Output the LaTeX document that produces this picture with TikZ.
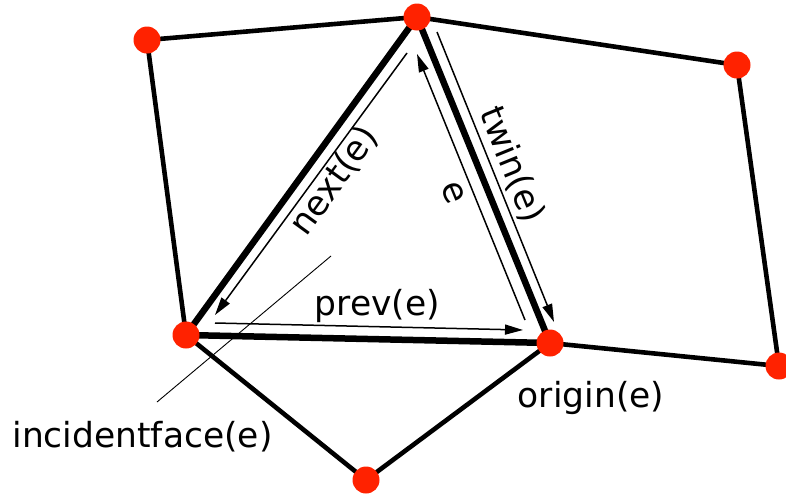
\documentclass[tikz,border=0pt]{standalone}
\usepackage{fontspec}
\setmainfont{DejaVu Sans}
\usetikzlibrary{arrows.meta}
\definecolor{vred}{RGB}{255,34,0}
\begin{document}
\begin{tikzpicture}[x=1pt,y=-1pt,
  outer/.style={line width=4.6pt,line join=round},
  tri/.style={line width=6.5pt,line join=round},
  vertex/.style={circle,fill=vred,inner sep=0pt,minimum size=27pt},
  harrow/.style={line width=1.5pt,-{Triangle[length=18pt,width=10pt]}},
  lbl/.style={inner sep=0pt,font=\fontsize{34.5}{41}\selectfont}]
\useasboundingbox (0,0) rectangle (786,493);
% vertices
\coordinate (A) at (147,40);
\coordinate (T) at (417,17);
\coordinate (R1) at (737,65);
\coordinate (R2) at (779,366);
\coordinate (L) at (186,335);
\coordinate (O) at (550,343);
\coordinate (B) at (366,480);
% outer edges
\draw[outer] (L) -- (A) -- (T) -- (R1) -- (R2) -- (O);
\draw[outer] (L) -- (B) -- (O);
% triangle
\draw[tri] (L) -- (T) -- (O) -- cycle;
% vertex dots
\foreach \v in {A,T,R1,R2,L,O,B} \node[vertex] (n\v) at (\v) {};
% half-edge arrows
\coordinate (nxS) at (407,53);  \coordinate (nxE) at (215,315);
\coordinate (pvS) at (215,323); \coordinate (pvE) at (523,330);
\coordinate (eS) at (525,320);  \coordinate (eE) at (417,54);
\coordinate (twS) at (437,32);  \coordinate (twE) at (554,322);
\draw[harrow] (nxS) -- (nxE);
\draw[harrow] (pvS) -- (pvE);
\draw[harrow] (eS) -- (eE);
\draw[harrow] (twS) -- (twE);
% incident face pointer
\coordinate (ifS) at (157,402); \coordinate (ifE) at (331,256);
\draw[line width=0.9pt] (ifS) -- (ifE);
% labels
\node[lbl,rotate=54] (lnext) at (334,181) {next(e)};
\node[lbl,rotate=-67.8] (ltwin) at (512,165) {twin(e)};
\node[lbl,rotate=-67.8] (le) at (453,193) {e};
\node[lbl,anchor=base] (lprev) at (377.5,315) {prev(e)};
\node[lbl,anchor=base] (lorig) at (591,407) {origin(e)};
\node[lbl,anchor=base] (linc) at (142.5,447) {incidentface(e)};
\end{tikzpicture}
\end{document}
